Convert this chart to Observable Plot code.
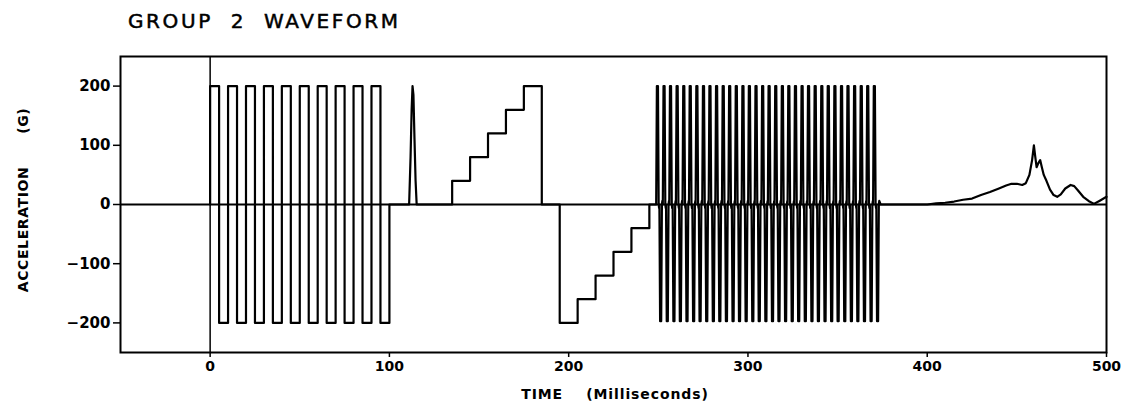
<!DOCTYPE html>
<html>
<head>
<meta charset="utf-8">
<script src="https://cdn.jsdelivr.net/npm/d3@7"></script>
<script src="https://cdn.jsdelivr.net/npm/@observablehq/plot@0.6"></script>
<style>
  html, body { margin: 0; padding: 0; background: white; }
  #wrap { position: relative; width: 1124px; height: 415px; overflow: hidden; }
  .lbl { position: absolute; white-space: pre; color: black; line-height: 1; font-family: "DejaVu Sans", sans-serif; }
  #title { left: 128px; top: 11px; font-size: 20px; letter-spacing: 2.6px; -webkit-text-stroke: 0.5px black; }
  #ylab { left: 23px; top: 200px; font-size: 14px; font-weight: bold; letter-spacing: 0.6px; transform: translate(-50%, -50%) rotate(-90deg); }
  #xlab { left: 615px; top: 387px; font-size: 14px; font-weight: bold; letter-spacing: 0.9px; transform: translateX(-50%); }
</style>
</head>
<body>
<div id="wrap">
  <div id="chart"></div>
  <div class="lbl" id="title">GROUP  2  WAVEFORM</div>
  <div class="lbl" id="ylab">ACCELERATION      (G)</div>
  <div class="lbl" id="xlab">TIME    (Milliseconds)</div>
</div>
<script>
// ---- Data ----
const xTicks = [0, 100, 200, 300, 400, 500];
const yTicks = [-200, -100, 0, 100, 200];

// Square wave + staircases: breakpoint times (ms) and the level (G) from that time on
const stepTimes  = [0, 5, 10, 15, 20, 25, 30, 35, 40, 45, 50, 55, 60, 65, 70, 75, 80, 85, 90, 95, 100,
                    135, 145, 155, 165, 175, 185,
                    195, 205, 215, 225, 235, 245];
const stepLevels = [200, -200, 200, -200, 200, -200, 200, -200, 200, -200, 200, -200, 200, -200, 200, -200, 200, -200, 200, -200, 0,
                    40, 80, 120, 160, 200, 0,
                    -200, -160, -120, -80, -40, 0];

// Single narrow pulse near 113 ms
const spikeTimes  = [111, 111.8, 112.4, 112.9, 113.4, 114.0, 114.6, 115.2];
const spikeValues = [0, 80, 160, 200, 185, 110, 40, 0];

// Dense oscillation 250–372 ms: times of positive and negative peaks
const posPeakTimes = [249.5, 253.2, 256.8, 260.5, 264.2, 267.8, 271.5, 275.2, 278.8, 282.5, 286.2, 289.8,
                      293.5, 297.2, 300.8, 304.5, 308.2, 311.8, 315.5, 319.2, 322.8, 326.5, 330.2, 333.8,
                      337.5, 341.2, 344.8, 348.5, 352.2, 355.8, 359.5, 363.2, 366.8, 370.5];
const negPeakTimes = [251.3, 255.0, 258.7, 262.3, 266.0, 269.7, 273.3, 277.0, 280.7, 284.3, 288.0, 291.7,
                      295.3, 299.0, 302.7, 306.3, 310.0, 313.7, 317.3, 321.0, 324.7, 328.3, 332.0, 335.7,
                      339.3, 343.0, 346.7, 350.3, 354.0, 357.7, 361.3, 365.0, 368.7, 372.3];
const posPeakValue = 200;
const negPeakValue = -197;
const ringValue = 6;   // small ringing around zero between the peaks

// Final crash-like pulse 400–500 ms
const pulseTimes  = [400, 405, 410, 415, 420, 425, 430, 435, 440, 444, 447, 450, 453, 455, 457, 458.5, 459.5,
                     460.2, 461, 462, 463, 464, 465, 466.5, 468.5, 470.5, 472.5, 474.5, 477, 480, 482, 484,
                     487, 490, 493, 496, 500];
const pulseValues = [0, 2, 3, 5, 8, 10, 16, 21, 27, 32, 35, 35, 33, 36, 50, 75, 100,
                     82, 63, 70, 75, 62, 50, 40, 25, 16, 13, 17, 27, 33, 31, 24,
                     13, 6, 1, 6, 13];

// ---- Build the single polyline from the arrays ----
const pts = [];
let prev = 0;
stepTimes.forEach((t, i) => {
  pts.push({t, a: prev});
  pts.push({t, a: stepLevels[i]});
  prev = stepLevels[i];
});
spikeTimes.forEach((t, i) => pts.push({t, a: spikeValues[i]}));
const osc = [];
posPeakTimes.forEach(t => {
  osc.push({t: t - 0.7, a: 0}); osc.push({t: t - 0.3, a: posPeakValue});
  osc.push({t: t + 0.3, a: posPeakValue}); osc.push({t: t + 0.7, a: 0}); osc.push({t: t + 0.95, a: -ringValue});
});
negPeakTimes.forEach(t => {
  osc.push({t: t - 0.7, a: 0}); osc.push({t: t - 0.3, a: negPeakValue});
  osc.push({t: t + 0.3, a: negPeakValue}); osc.push({t: t + 0.7, a: 0}); osc.push({t: t + 0.95, a: ringValue});
});
osc.sort((p, q) => p.t - q.t);
osc.push({t: 374, a: 0});
pts.push(...osc);
pulseTimes.forEach((t, i) => pts.push({t, a: pulseValues[i]}));
const ordered = pts.map((p, i) => ({...p, i})).sort((p, q) => p.t - q.t || p.i - q.i);

const chart = Plot.plot({
  width: 1124,
  height: 415,
  marginLeft: 120,
  marginRight: 18,
  marginTop: 56,
  marginBottom: 63,
  x: {domain: [-50, 500], axis: null},
  y: {domain: [-250, 250], axis: null},
  style: {background: "white", color: "black", fontFamily: "'DejaVu Sans', sans-serif"},
  marks: [
    Plot.ruleY([0], {stroke: "black", strokeWidth: 2}),
    Plot.ruleX([0], {stroke: "black", strokeWidth: 1.5}),
    Plot.line(ordered, {x: "t", y: "a", stroke: "black", strokeWidth: 2.2, strokeLinejoin: "round"}),
    Plot.frame({stroke: "black", strokeWidth: 2}),
    Plot.axisY(yTicks, {tickSize: 7, tickPadding: 3, strokeWidth: 1.5, fontSize: 15, fontWeight: "bold", label: null}),
    Plot.axisX(xTicks, {tickSize: 5, tickPadding: 4, strokeWidth: 1.5, fontSize: 14, fontWeight: "bold", label: null})
  ]
});
document.getElementById("chart").appendChild(chart);
</script>
</body>
</html>
